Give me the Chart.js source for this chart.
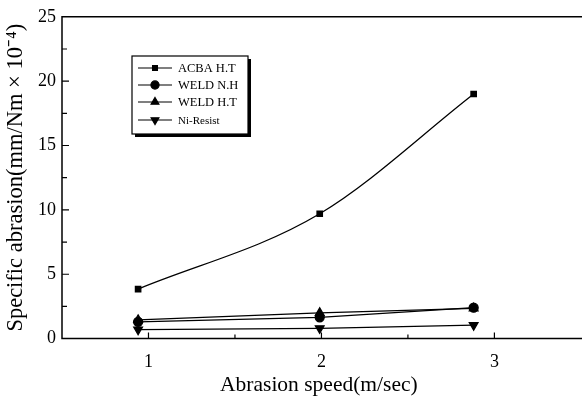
<!DOCTYPE html>
<html>
<head>
<meta charset="utf-8">
<script src="https://cdn.jsdelivr.net/npm/chart.js@4"></script>
<style>
  html, body { margin: 0; padding: 0; background: #fff; }
  #wrap { width: 582px; height: 401px; }
</style>
</head>
<body>
<div id="wrap"><canvas id="chart"></canvas></div>
<script>
// values
const seriesNames = ['ACBA H.T', 'WELD N.H', 'WELD H.T', 'Ni-Resist'];
const speeds = [0.94, 1.99, 2.88];
const acbaHT = [3.85, 9.7, 19.0];
const weldNH = [1.3, 1.65, 2.4];
const weldHT = [1.45, 2.0, 2.35];
const niResist = [0.7, 0.8, 1.05];
const xTicks = [1, 2, 3];
const yTicks = [0, 5, 10, 15, 20, 25];

const markers = [
  { pointStyle: 'rect', radius: 3.8, rotation: 0 },
  { pointStyle: 'circle', radius: 4.5, rotation: 0 },
  { pointStyle: 'triangle', radius: 5, rotation: 0 },
  { pointStyle: 'triangle', radius: 5, rotation: 180 },
];
const allValues = [acbaHT, weldNH, weldHT, niResist];

const serif = 'Liberation Serif';

function makeDataset(i) {
  return {
    label: seriesNames[i],
    data: speeds.map((s, k) => ({ x: s, y: allValues[i][k] })),
    borderColor: '#000',
    backgroundColor: '#000',
    borderWidth: 1.3,
    pointStyle: markers[i].pointStyle,
    pointRadius: markers[i].radius,
    pointRotation: markers[i].rotation,
    tension: i === 0 ? 0.35 : 0,
    cubicInterpolationMode: i === 0 ? 'monotone' : 'default',
  };
}

// frame, inward ticks and the boxed legend
const framePlugin = {
  id: 'frame',
  afterDraw(chart) {
    const ctx = chart.ctx;
    const a = chart.chartArea;
    const xs = chart.scales.x, ys = chart.scales.y;
    ctx.save();
    ctx.strokeStyle = '#000';
    ctx.lineWidth = 1.5;
    ctx.beginPath();
    ctx.moveTo(a.right + 8, a.top);
    ctx.lineTo(a.left, a.top);
    ctx.lineTo(a.left, a.bottom);
    ctx.lineTo(a.right + 8, a.bottom);
    ctx.stroke();

    ctx.lineWidth = 1.2;
    ctx.beginPath();
    for (let v = 1; v <= 3.01; v += 0.5) {
      const px = xs.getPixelForValue(v);
      const len = Number.isInteger(v) ? 6 : 4;
      ctx.moveTo(px, a.bottom);
      ctx.lineTo(px, a.bottom - len);
    }
    for (let v = 2.5; v < 25; v += 2.5) {
      const py = ys.getPixelForValue(v);
      const len = v % 5 === 0 ? 7 : 5;
      ctx.moveTo(a.left, py);
      ctx.lineTo(a.left + len, py);
    }
    ctx.stroke();

    // legend box with drop shadow
    const bx = 132, by = 56, bw = 116, bh = 78;
    ctx.fillStyle = '#000';
    ctx.fillRect(bx + 3, by + 3, bw, bh);
    ctx.fillStyle = '#fff';
    ctx.fillRect(bx, by, bw, bh);
    ctx.lineWidth = 1.2;
    ctx.strokeRect(bx, by, bw, bh);

    const rows = [68, 85, 102, 120];
    chart.data.datasets.forEach((ds, i) => {
      const y = rows[i];
      ctx.strokeStyle = '#000';
      ctx.lineWidth = 1.2;
      ctx.beginPath();
      ctx.moveTo(138, y);
      ctx.lineTo(172, y);
      ctx.stroke();
      ctx.fillStyle = '#000';
      Chart.helpers.drawPoint(ctx, {
        pointStyle: ds.pointStyle,
        radius: ds.pointRadius * 0.9,
        rotation: ds.pointRotation,
        borderWidth: 1,
      }, 155, y);
      ctx.fillStyle = '#000';
      ctx.font = (i === 3 ? '11px ' : '12.5px ') + serif;
      ctx.textBaseline = 'middle';
      ctx.textAlign = 'left';
      ctx.fillText(ds.label, 178, y + 1);
    });
    ctx.restore();
  }
};

new Chart(document.getElementById('chart'), {
  type: 'line',
  data: { datasets: seriesNames.map((_, i) => makeDataset(i)) },
  options: {
    responsive: true,
    maintainAspectRatio: false,
    animation: false,
    layout: { padding: { top: 3, right: 0, left: 3, bottom: 3 } },
    plugins: { legend: { display: false }, tooltip: { enabled: false } },
    scales: {
      x: {
        type: 'linear',
        min: 0.5,
        max: 3.47,
        afterBuildTicks: (s) => { s.ticks = xTicks.map(v => ({ value: v })); },
        ticks: { color: '#000', font: { family: serif, size: 18 }, padding: 13, maxRotation: 0 },
        grid: { display: false, drawTicks: false },
        border: { display: false },
        title: {
          display: true,
          text: 'Abrasion speed(m/sec)',
          color: '#000',
          font: { family: serif, size: 21.5 },
          padding: { top: -14, bottom: 0 },
        },
      },
      y: {
        min: 0,
        max: 25,
        afterBuildTicks: (s) => { s.ticks = yTicks.map(v => ({ value: v })); },
        ticks: { color: '#000', font: { family: serif, size: 18 }, padding: 6 },
        grid: { display: false, drawTicks: false },
        border: { display: false },
        title: {
          display: true,
          text: 'Specific abrasion(mm/Nm × 10⁻⁴)',
          color: '#000',
          font: { family: serif, size: 22.5 },
          padding: { top: 0, bottom: 2 },
        },
      },
    },
  },
  plugins: [framePlugin],
});
</script>
</body>
</html>
